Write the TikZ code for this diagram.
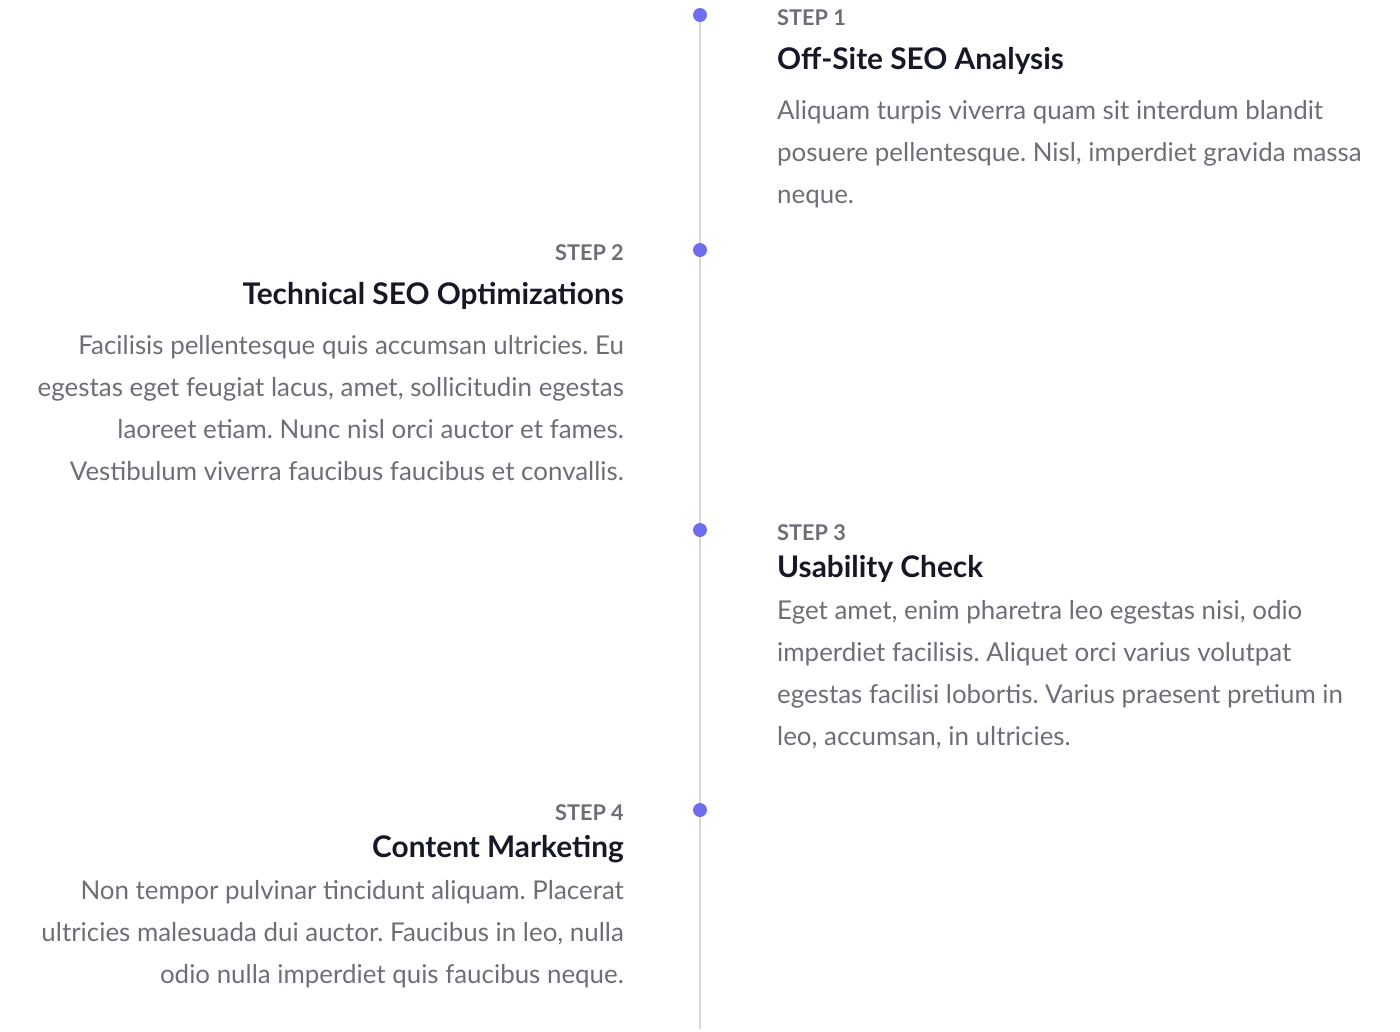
\documentclass[tikz,border=0pt]{standalone}
\usepackage{fontspec}
\setmainfont{Lato}
\definecolor{dotc}{HTML}{6F6FEE}
\definecolor{railc}{HTML}{D6D6DC}
\definecolor{bodyc}{HTML}{6E6E78}
\definecolor{ttlc}{HTML}{161826}

\begin{document}
\frenchspacing
\begin{tikzpicture}[
x=1pt,y=-1pt,
dot/.style={
  circle,
  fill=dotc,
  inner sep=0pt,
  minimum size=14pt
  },
rail/.style={
  draw=railc,
  line width=1.3pt
  },
steplbl/.style={
  inner sep=0pt,
  text=bodyc,
  font=\fontsize{21.7}{26}\selectfont\bfseries
  },
ttl/.style={
  inner sep=0pt,
  text=ttlc,
  font=\fontsize{29.8}{36}\selectfont\bfseries
  },
body/.style={
  inner sep=0pt,
  text=bodyc,
  font=\fontsize{25.9}{42}\selectfont
  }
]
\useasboundingbox (0,0) rectangle (1400,1031);
% timeline
\coordinate (top) at (700,15);
\coordinate (bot) at (700,1029);
\draw[rail] (top) -- (bot);
\foreach \y [count=\i] in {15,250,530,810}
  \node[dot] (d\i) at (700,\y) {};
% step 1 (right)
\node[steplbl,anchor=base west] (lbl1) at (777,25) {STEP 1};
\node[ttl,anchor=base west] (ttl1) at (777,69) {Off-Site SEO Analysis};
\foreach \ln [count=\i] in {
  {Aliquam turpis viverra quam sit interdum blandit},
  {posuere pellentesque. Nisl, imperdiet gravida massa},
  {neque.}}
  \node[body,anchor=base west] (txt1-\i) at (777,119+42*\i-42) {\ln};
% step 2 (left)
\node[steplbl,anchor=base east] (lbl2) at (624,260) {STEP 2};
\node[ttl,anchor=base east] (ttl2) at (624,304) {Technical SEO Optimizations};
\foreach \ln [count=\i] in {
  {Facilisis pellentesque quis accumsan ultricies. Eu},
  {egestas eget feugiat lacus, amet, sollicitudin egestas},
  {laoreet etiam. Nunc nisl orci auctor et fames.},
  {Vestibulum viverra faucibus faucibus et convallis.}}
  \node[body,anchor=base east] (txt2-\i) at (624,354+42*\i-42) {\ln};
% step 3 (right)
\node[steplbl,anchor=base west] (lbl3) at (777,540) {STEP 3};
\node[ttl,anchor=base west] (ttl3) at (777,577) {Usability Check};
\foreach \ln [count=\i] in {
  {Eget amet, enim pharetra leo egestas nisi, odio},
  {imperdiet facilisis. Aliquet orci varius volutpat},
  {egestas facilisi lobortis. Varius praesent pretium in},
  {leo, accumsan, in ultricies.}}
  \node[body,anchor=base west] (txt3-\i) at (777,619+42*\i-42) {\ln};
% step 4 (left)
\node[steplbl,anchor=base east] (lbl4) at (624,820) {STEP 4};
\node[ttl,anchor=base east] (ttl4) at (624,857) {Content Marketing};
\foreach \ln [count=\i] in {
  {Non tempor pulvinar tincidunt aliquam. Placerat},
  {ultricies malesuada dui auctor. Faucibus in leo, nulla},
  {odio nulla imperdiet quis faucibus neque.}}
  \node[body,anchor=base east] (txt4-\i) at (624,899+42*\i-42) {\ln};
\end{tikzpicture}
\end{document}
